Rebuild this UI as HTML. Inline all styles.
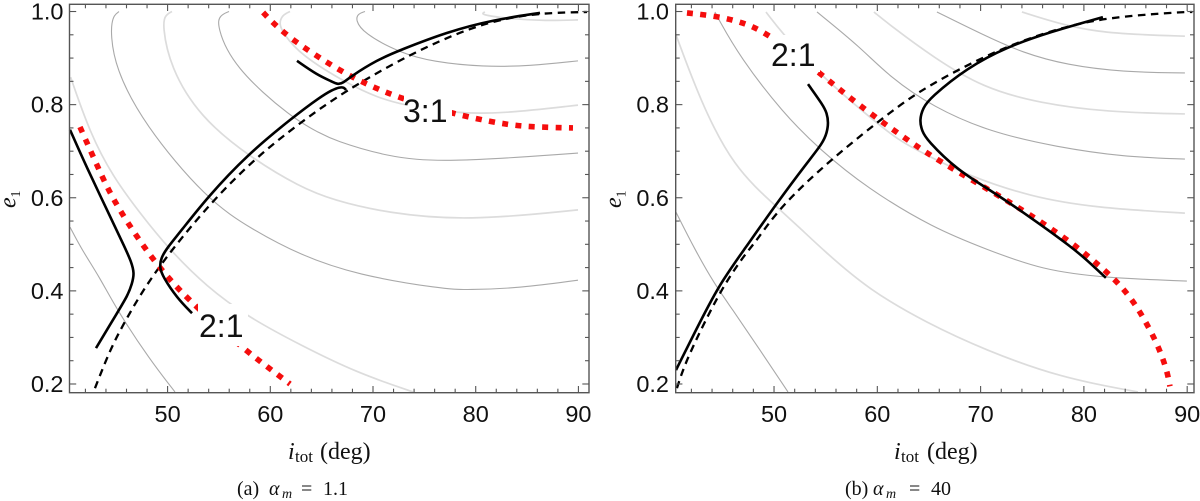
<!DOCTYPE html>
<html lang="en">
<head>
<meta charset="utf-8">
<title>Resonance curves, alpha_m = 1.1 and 40</title>
<style>
html,body{margin:0;padding:0;background:#fff;}
svg{display:block;}
text{fill:#111;}
.tick{font-family:"Liberation Sans",sans-serif;font-size:23.5px;}
.res{font-family:"Liberation Sans",sans-serif;font-size:32px;}
.serif{font-family:"Liberation Serif",serif;}
</style>
</head>
<body>
<svg id="fig" xmlns="http://www.w3.org/2000/svg" width="1200" height="501" viewBox="0 0 1200 501">
<rect x="0" y="0" width="1200" height="501" fill="#fff"/>
<g id="panelA"></g>
<g id="panelB"></g>

<g>
<rect x="198" y="304" width="50" height="42" fill="#fff"/>
<text class="res" x="199" y="337">2:1</text>
<rect x="404" y="90" width="48" height="38" fill="#fff"/>
<text class="res" x="403" y="122">3:1</text>
</g>
<g>
<rect x="770" y="35" width="50" height="37" fill="#fff"/>
<text class="res" x="771" y="66">2:1</text>
</g>

<g id="frames"></g>

<g class="serif" transform="translate(15.5,208) rotate(-90)">
<text class="serif" font-size="24" font-style="italic" x="0" y="0">e</text>
<text class="serif" font-size="14" x="10.5" y="4.5">1</text>
</g>
<g class="serif" transform="translate(621,208) rotate(-90)">
<text class="serif" font-size="24" font-style="italic" x="0" y="0">e</text>
<text class="serif" font-size="14" x="10.5" y="4.5">1</text>
</g>

<g>
<text class="serif" font-size="24" font-style="italic" x="288" y="459">i</text>
<text class="serif" font-size="17" x="295" y="462">tot</text>
<text class="serif" font-size="24" x="320" y="459">(deg)</text>
</g>
<g>
<text class="serif" font-size="24" font-style="italic" x="894" y="459">i</text>
<text class="serif" font-size="17" x="901" y="462">tot</text>
<text class="serif" font-size="24" x="927" y="459">(deg)</text>
</g>

<g>
<text class="serif" font-size="20" x="237" y="495">(a)</text>
<text class="serif" font-size="20" font-style="italic" x="269" y="495">α</text>
<text class="serif" font-size="14" font-style="italic" x="282" y="498">m</text>
<text class="serif" font-size="20" x="301" y="495">=</text>
<text class="serif" font-size="20" x="323" y="495">1.1</text>
</g>
<g>
<text class="serif" font-size="20" x="845" y="495">(b)</text>
<text class="serif" font-size="20" font-style="italic" x="873" y="495">α</text>
<text class="serif" font-size="14" font-style="italic" x="886" y="498">m</text>
<text class="serif" font-size="20" x="909" y="495">=</text>
<text class="serif" font-size="20" x="931" y="495">40</text>
</g>
</svg>

<script>
// Axis tick values
const xMajorTicks = [50, 60, 70, 80, 90];
const xMinorTicks = [42, 44, 46, 48, 52, 54, 56, 58, 62, 64, 66, 68, 72, 74, 76, 78, 82, 84, 86, 88];
const yMajorTicks = [0.2, 0.4, 0.6, 0.8, 1.0];
const yMinorTicks = [0.25, 0.3, 0.35, 0.45, 0.5, 0.55, 0.65, 0.7, 0.75, 0.85, 0.9, 0.95];
const yTickLabels = ['0.2', '0.4', '0.6', '0.8', '1.0'];
const xTickLabels = ['50', '60', '70', '80', '90'];

// Panel (a) contour curves: i (deg), e
const aC1I = [40.5, 41.66, 43.42, 45.07, 48.29, 50.72];
const aC1E = [0.537, 0.488, 0.428, 0.359, 0.2515, 0.183];
const aC2I = [40.56, 42.44, 44.68, 47.31, 50.04, 53.84, 57.83, 62.89, 68.44, 73.89];
const aC2E = [0.859, 0.739, 0.645, 0.567, 0.492, 0.408, 0.344, 0.284, 0.224, 0.183];
const aC3I = [45.27, 44.78, 44.56, 44.49, 44.88, 47.6, 53.84, 58.31, 62.89, 68.44, 76.8, 79.15, 84.3, 89.96];
const aC3E = [1.0, 0.992, 0.975, 0.95, 0.881, 0.76, 0.595, 0.531, 0.477, 0.434, 0.404, 0.402, 0.406, 0.423];
const aC4I = [50.43, 49.75, 49.5, 50.23, 53.15, 58.02, 62.89, 66.1, 71.36, 79.15, 89.96];
const aC4E = [1.0, 0.992, 0.971, 0.881, 0.773, 0.687, 0.623, 0.595, 0.567, 0.55, 0.574];
const aC5I = [55.98, 55.1, 54.76, 56.37, 62.21, 64.84, 66.1, 71.36, 76.8, 89.96];
const aC5E = [1.0, 0.992, 0.971, 0.881, 0.769, 0.739, 0.724, 0.688, 0.675, 0.696];
const aC6I = [61.92, 61.14, 60.85, 61.24, 62.89, 67.76, 70.39, 72.92, 77.79, 82.37, 89.96];
const aC6E = [1.0, 0.992, 0.973, 0.954, 0.907, 0.842, 0.816, 0.799, 0.782, 0.78, 0.799];
const aC7I = [69.22, 68.54, 68.3, 69.03, 72.63, 75.84, 80.71, 85.3, 89.96];
const aC7E = [1.0, 0.995, 0.982, 0.954, 0.911, 0.892, 0.881, 0.883, 0.894];
const aC8I = [80.9, 80.52, 81.39, 83.63, 86.75, 89.96];
const aC8E = [0.999, 0.995, 0.99, 0.984, 0.98, 0.982];

// Panel (a) resonance curves
const aRedLowI = [41.47, 43.12, 44.68, 47.6, 49.94, 52.67, 57.44, 59.58, 61.92];
const aRedLowE = [0.752, 0.67, 0.595, 0.496, 0.43, 0.367, 0.275, 0.239, 0.2];
const aRedTopI = [59.3, 60.36, 62.4, 65.62, 67.95, 70.2, 72.63, 77.79, 82.66, 85.3, 89.47];
const aRedTopE = [0.998, 0.973, 0.935, 0.889, 0.859, 0.836, 0.814, 0.78, 0.758, 0.752, 0.75];
const aDashI = [42.93, 44.39, 45.66, 47.6, 50.23, 54.42, 58.7, 62.6, 67.08, 73.8, 79.44, 83.05, 86.55, 90.84];
const aDashE = [0.191, 0.273, 0.327, 0.402, 0.484, 0.595, 0.688, 0.756, 0.827, 0.911, 0.965, 0.986, 0.997, 0.999];
const aSolid1I = [40.5, 42.15, 44.1, 45.95, 46.43, 46.78, 46.53, 46.14, 45.07, 43.03];
const aSolid1E = [0.746, 0.664, 0.574, 0.488, 0.464, 0.438, 0.415, 0.391, 0.352, 0.277];
const aSolid2I = [52.38, 50.91, 49.55, 49.21, 49.36, 49.94, 51.21, 53.84, 57.73, 62.21, 64.84, 66.0, 66.78, 67.18, 67.37];
const aSolid2E = [0.352, 0.385, 0.43, 0.451, 0.4706, 0.492, 0.526, 0.6, 0.692, 0.773, 0.816, 0.8314, 0.8378, 0.8368, 0.8314];
const aSolid3I = [62.6, 64.55, 66.0, 66.59, 67.08, 67.76, 70.39, 72.63, 77.2, 81.68, 86.26];
const aSolid3E = [0.894, 0.864, 0.8496, 0.8432, 0.8464, 0.8593, 0.896, 0.917, 0.956, 0.982, 0.997];

// Panel (b) contour curves
const bC1I = [40.51, 42.35, 44.28, 45.83, 48.64, 51.35];
const bC1E = [0.569, 0.488, 0.413, 0.365, 0.273, 0.183];
const bC2I = [40.51, 42.83, 46.03, 50.29, 52.51, 54.74, 59.19, 64.8, 70.42, 77.78, 85.23];
const bC2E = [0.95, 0.81, 0.666, 0.58, 0.535, 0.488, 0.402, 0.331, 0.273, 0.213, 0.183];
const bC3I = [44.28, 44.57, 46.7, 50.87, 54.45, 58.99, 65.39, 70.71, 75.94, 81.94, 89.97];
const bC3E = [0.999, 0.986, 0.902, 0.782, 0.703, 0.621, 0.535, 0.488, 0.445, 0.428, 0.421];
const bC4I = [49.22, 50.77, 54.45, 58.99, 62.19, 65.39, 68.68, 74.78, 81.26, 89.78];
const bC4E = [0.999, 0.954, 0.864, 0.778, 0.72, 0.685, 0.649, 0.602, 0.578, 0.567];
const bC5I = [54.16, 58.32, 61.22, 65.39, 70.9, 77.38, 83.77, 89.78];
const bC5E = [0.999, 0.924, 0.859, 0.795, 0.741, 0.709, 0.688, 0.683];
const bC6I = [59.67, 61.22, 65.39, 70.23, 75.74, 82.23, 89.78];
const bC6E = [0.999, 0.971, 0.902, 0.836, 0.803, 0.784, 0.78];
const bC7I = [65.77, 70.23, 74.1, 78.36, 83.77, 89.78];
const bC7E = [0.999, 0.95, 0.911, 0.885, 0.87, 0.868];
const bC8I = [74.0, 77.38, 81.26, 85.71, 89.78];
const bC8E = [0.999, 0.975, 0.956, 0.95, 0.947];

// Panel (b) resonance curves
const bRedI = [41.57, 44.48, 46.9, 49.22, 54.45, 57.35, 60.45, 61.42, 64.61, 68.0, 72.35, 75.74, 78.84, 80.87, 83.01, 84.74, 86.0, 87.16, 88.04, 88.33];
const bRedE = [0.997, 0.99, 0.977, 0.956, 0.868, 0.814, 0.763, 0.748, 0.698, 0.653, 0.597, 0.55, 0.503, 0.466, 0.425, 0.38, 0.333, 0.284, 0.23, 0.195];
const bDashI = [40.6, 41.38, 43.6, 45.44, 47.28, 48.35, 50.57, 55.41, 61.8, 64.9, 69.64, 74.1, 79.32, 83.77, 89.58, 90.5];
const bDashE = [0.191, 0.245, 0.348, 0.423, 0.481, 0.509, 0.58, 0.681, 0.794, 0.84, 0.896, 0.939, 0.975, 0.99, 0.999, 0.999];
const bSolid1I = [40.51, 42.44, 44.67, 47.09, 50.29, 53.19, 54.74, 55.12, 55.27, 55.12, 54.74, 53.29];
const bSolid1E = [0.23, 0.316, 0.413, 0.488, 0.589, 0.675, 0.718, 0.74, 0.761, 0.782, 0.799, 0.844];
const bSolid2I = [81.84, 76.71, 72.55, 68.68, 65.09, 64.42, 64.08, 64.32, 64.8, 67.71, 70.9, 74.77, 78.94, 80.29, 82.13];
const bSolid2E = [0.988, 0.956, 0.924, 0.879, 0.814, 0.793, 0.767, 0.7434, 0.724, 0.66, 0.617, 0.559, 0.492, 0.466, 0.428];

const SVG_NS = 'http://www.w3.org/2000/svg';
const DARK = {stroke: '#a9a9a9', width: 1.1};
const LIGHT = {stroke: '#dcdcdc', width: 1.7};
const RED = {stroke: '#f50d0d', width: 5.6, dash: '6 7.4'};
const DASH = {stroke: '#000', width: 2.3, dash: '7.5 5.5'};
const SOLID = {stroke: '#000', width: 2.6};

function makeAxes(left, right, iMin, iMax) {
  const top = 4.3, bottom = 392.7, eTop = 1.0155, eBottom = 0.1813;
  return {
    left: left, right: right, top: top, bottom: bottom,
    x: function (i) { return left + (i - iMin) * (right - left) / (iMax - iMin); },
    y: function (e) { return top + (eTop - e) * (bottom - top) / (eTop - eBottom); }
  };
}

const axesA = makeAxes(69.5, 589, 40.45, 91.03);
const axesB = makeAxes(675.7, 1194, 40.48, 90.66);

// Clamped uniform cubic B-spline through the read points
function smoothPath(raw) {
  const n = raw.length;
  const P = [raw[0], raw[0]].concat(raw, [raw[n - 1], raw[n - 1]]);
  let d = 'M' + raw[0][0].toFixed(2) + ' ' + raw[0][1].toFixed(2);
  for (let k = 0; k + 3 < P.length; k++) {
    const a = P[k], b = P[k + 1], c = P[k + 2], e = P[k + 3];
    const c1x = (2 * b[0] + c[0]) / 3, c1y = (2 * b[1] + c[1]) / 3;
    const c2x = (b[0] + 2 * c[0]) / 3, c2y = (b[1] + 2 * c[1]) / 3;
    const ex = (b[0] + 4 * c[0] + e[0]) / 6, ey = (b[1] + 4 * c[1] + e[1]) / 6;
    d += 'C' + c1x.toFixed(2) + ' ' + c1y.toFixed(2) + ' ' + c2x.toFixed(2) + ' ' + c2y.toFixed(2) + ' ' + ex.toFixed(2) + ' ' + ey.toFixed(2);
  }
  return d;
}

function drawCurve(parent, axes, iVals, eVals, style, name) {
  const pts = iVals.map(function (v, k) { return [axes.x(v), axes.y(eVals[k])]; });
  const el = document.createElementNS(SVG_NS, 'path');
  el.setAttribute('d', smoothPath(pts));
  el.setAttribute('fill', 'none');
  el.setAttribute('stroke', style.stroke);
  el.setAttribute('stroke-width', style.width);
  if (style.dash) { el.setAttribute('stroke-dasharray', style.dash); }
  
  
  parent.appendChild(el);
}

function drawTick(parent, x1, y1, x2, y2, name) {
  const el = document.createElementNS(SVG_NS, 'line');
  el.setAttribute('x1', x1);
  el.setAttribute('y1', y1);
  el.setAttribute('x2', x2);
  el.setAttribute('y2', y2);
  el.setAttribute('stroke', '#555');
  el.setAttribute('stroke-width', 1.1);
  
  
  parent.appendChild(el);
}

function drawLabel(parent, x, y, anchor, str, name) {
  const el = document.createElementNS(SVG_NS, 'text');
  el.setAttribute('class', 'tick');
  el.setAttribute('x', x);
  el.setAttribute('y', y);
  el.setAttribute('text-anchor', anchor);
  el.textContent = str;
  
  
  parent.appendChild(el);
}

function drawFrame(parent, a, yLabelX) {
  const rect = document.createElementNS(SVG_NS, 'rect');
  rect.setAttribute('x', a.left);
  rect.setAttribute('y', a.top);
  rect.setAttribute('width', a.right - a.left);
  rect.setAttribute('height', a.bottom - a.top);
  rect.setAttribute('fill', 'none');
  rect.setAttribute('stroke', '#555');
  rect.setAttribute('stroke-width', 1.4);
  
  
  parent.appendChild(rect);

  xMajorTicks.forEach(function (v, k) {
    const px = a.x(v);
    drawTick(parent, px, a.bottom, px, a.bottom - 6.7, 'x-major-tick');
    drawTick(parent, px, a.top, px, a.top + 6.7, 'x-major-tick-top');
    drawLabel(parent, px, 422, 'middle', xTickLabels[k], 'x-tick-label');
  });
  xMinorTicks.forEach(function (v) {
    const px = a.x(v);
    drawTick(parent, px, a.bottom, px, a.bottom - 4, 'x-minor-tick');
    drawTick(parent, px, a.top, px, a.top + 4, 'x-minor-tick-top');
  });
  yMajorTicks.forEach(function (v, k) {
    const py = a.y(v);
    drawTick(parent, a.left, py, a.left + 6.7, py, 'y-major-tick');
    drawTick(parent, a.right, py, a.right - 6.7, py, 'y-major-tick-right');
    drawLabel(parent, yLabelX, py + 8, 'end', yTickLabels[k], 'y-tick-label');
  });
  yMinorTicks.forEach(function (v) {
    const py = a.y(v);
    drawTick(parent, a.left, py, a.left + 4, py, 'y-minor-tick');
    drawTick(parent, a.right, py, a.right - 4, py, 'y-minor-tick-right');
  });
}

const gA = document.getElementById('panelA');
const gB = document.getElementById('panelB');
const frames = document.getElementById('frames');

drawCurve(gA, axesA, aC1I, aC1E, DARK, 'contour-a-1');
drawCurve(gA, axesA, aC2I, aC2E, LIGHT, 'contour-a-2');
drawCurve(gA, axesA, aC3I, aC3E, DARK, 'contour-a-3');
drawCurve(gA, axesA, aC4I, aC4E, LIGHT, 'contour-a-4');
drawCurve(gA, axesA, aC5I, aC5E, DARK, 'contour-a-5');
drawCurve(gA, axesA, aC6I, aC6E, LIGHT, 'contour-a-6');
drawCurve(gA, axesA, aC7I, aC7E, DARK, 'contour-a-7');
drawCurve(gA, axesA, aC8I, aC8E, LIGHT, 'contour-a-8');
drawCurve(gA, axesA, aDashI, aDashE, DASH, 'dashed-curve-a');
drawCurve(gA, axesA, aRedLowI, aRedLowE, RED, 'red-dotted-2-1-a');
drawCurve(gA, axesA, aRedTopI, aRedTopE, RED, 'red-dotted-3-1');
drawCurve(gA, axesA, aSolid1I, aSolid1E, SOLID, 'solid-curve-a-left');
drawCurve(gA, axesA, aSolid2I, aSolid2E, SOLID, 'solid-curve-a-lower');
drawCurve(gA, axesA, aSolid3I, aSolid3E, SOLID, 'solid-curve-a-upper');

drawCurve(gB, axesB, bC1I, bC1E, DARK, 'contour-b-1');
drawCurve(gB, axesB, bC2I, bC2E, LIGHT, 'contour-b-2');
drawCurve(gB, axesB, bC3I, bC3E, DARK, 'contour-b-3');
drawCurve(gB, axesB, bC4I, bC4E, LIGHT, 'contour-b-4');
drawCurve(gB, axesB, bC5I, bC5E, DARK, 'contour-b-5');
drawCurve(gB, axesB, bC6I, bC6E, LIGHT, 'contour-b-6');
drawCurve(gB, axesB, bC7I, bC7E, DARK, 'contour-b-7');
drawCurve(gB, axesB, bC8I, bC8E, LIGHT, 'contour-b-8');
drawCurve(gB, axesB, bRedI, bRedE, RED, 'red-dotted-2-1-b');
drawCurve(gB, axesB, bDashI, bDashE, DASH, 'dashed-curve-b');
drawCurve(gB, axesB, bSolid1I, bSolid1E, SOLID, 'solid-curve-b-left');
drawCurve(gB, axesB, bSolid2I, bSolid2E, SOLID, 'solid-curve-b-right');

drawFrame(frames, axesA, 63.5);
drawFrame(frames, axesB, 669);
</script>
</body>
</html>
